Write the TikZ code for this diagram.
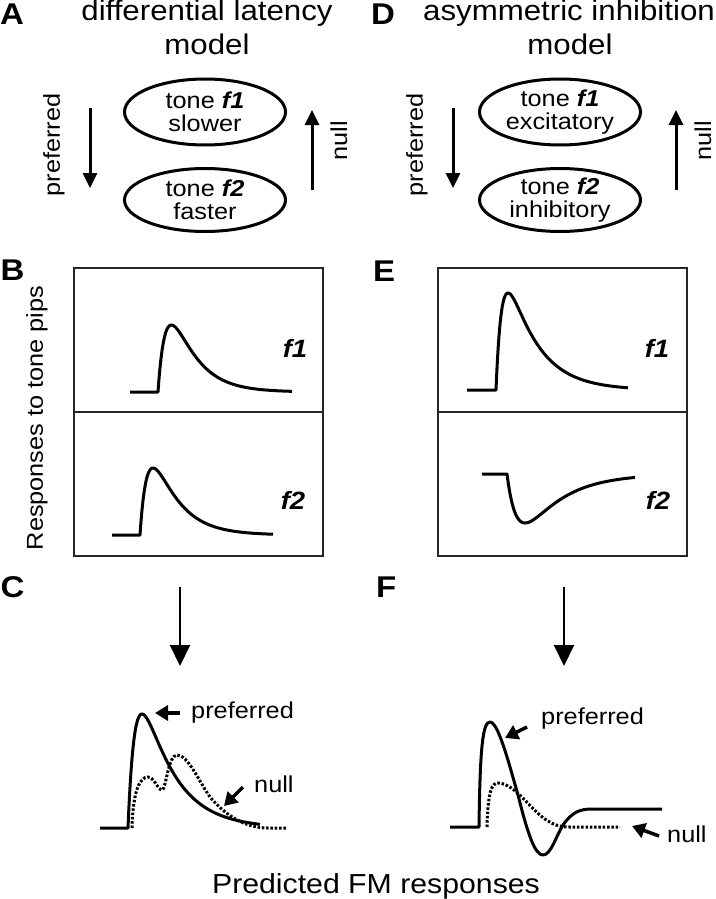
\documentclass[tikz,border=0pt]{standalone}
\usepackage{fontspec}
\setmainfont{Liberation Sans}[FakeStretch=1.1]
\usetikzlibrary{arrows.meta,shapes.geometric}
\begin{document}
\begin{tikzpicture}[x=1pt,y=-1pt,
  declare function={tpk(\a,\b)=\a*ln(1+\b/\a);
    rsp(\t,\a,\b)=(1-exp(-max(\t,0)/\a))*exp(-max(\t,0)/\b)/((1-exp(-tpk(\a,\b)/\a))*exp(-tpk(\a,\b)/\b));},
  lbl/.style={font=\fontsize{30}{32}\selectfont\bfseries, anchor=base west, inner sep=0},
  ttl/.style={font=\fontsize{28.4}{32}\selectfont, anchor=base, inner sep=0},
  txt/.style={font=\fontsize{23}{25}\selectfont, inner sep=0},
  oval/.style={ellipse, draw, line width=3pt, minimum width=161pt, minimum height=66pt,
    inner sep=0, align=center, font=\fontsize{23}{23}\selectfont},
  bigarr/.style={line width=3pt, -{Triangle[width=14pt,length=15pt]}},
  downarr/.style={line width=2pt, -{Triangle[width=20pt,length=21pt]}},
  smallarr/.style={line width=3.5pt, -{Triangle[width=15pt,length=13pt]}},
  trace/.style={line width=3pt, line join=round},
  dots/.style={line width=3pt, dash pattern=on 2.5pt off 1.8pt},
  panelbox/.style={draw=black!85, line width=1.6pt},
  flab/.style={font=\fontsize{25}{27}\selectfont\bfseries\itshape, anchor=base, inner sep=0}
]
\useasboundingbox (0,0) rectangle (715,899);

% ---------- panel labels ----------
\node[lbl] (labA) at (0,25) {A};
\node[lbl] (labB) at (0.5,280) {B};
\node[lbl] (labC) at (0.5,597) {C};
\node[lbl] (labD) at (371,25) {D};
\node[lbl] (labE) at (373,281) {E};
\node[lbl] (labF) at (376,597) {F};

% ---------- A ----------
\node[ttl] (tA1) at (207,21) {differential latency};
\node[ttl] (tA2) at (207,55) {model};
\node[oval] (A1) at (205,112) {tone \textbf{\textit{f1}}\\slower};
\node[oval, minimum height=63pt] (A2) at (205,200) {tone \textbf{\textit{f2}}\\faster};
\coordinate (Apt) at (90,108); \coordinate (Aph) at (90,188);
\coordinate (Ant) at (312,190); \coordinate (Anh) at (312,110);
\draw[bigarr] (Apt) -- (Aph);
\draw[bigarr] (Ant) -- (Anh);
\node[txt, rotate=90] (Apl) at (54,145) {preferred};
\node[txt, rotate=90] (Anl) at (339,141) {null};

% ---------- D ----------
\node[ttl] (tD1) at (569,21) {asymmetric inhibition};
\node[ttl] (tD2) at (570,55) {model};
\node[oval] (D1) at (560,112) {tone \textbf{\textit{f1}}\\excitatory};
\node[oval, minimum height=63pt] (D2) at (560,200) {tone \textbf{\textit{f2}}\\inhibitory};
\coordinate (Dpt) at (453,108); \coordinate (Dph) at (453,188);
\coordinate (Dnt) at (676,190); \coordinate (Dnh) at (676,110);
\draw[bigarr] (Dpt) -- (Dph);
\draw[bigarr] (Dnt) -- (Dnh);
\node[txt, rotate=90] (Dpl) at (417,145) {preferred};
\node[txt, rotate=90] (Dnl) at (703,141) {null};

% ---------- B ----------
\draw[panelbox] (74,268) rectangle (323,556);
\draw[panelbox] (74,412) -- (323,412);
\node[txt, rotate=90] (resp) at (37,418) {Responses to tone pips};
\draw[trace] plot[domain=-28:134, samples=325] ({158+\x},{392-67*rsp(\x,12.5,24)});
\draw[trace] plot[domain=-28:133, samples=323] ({140+\x},{535-67*rsp(\x,11,25)});
\node[flab] (Bf1) at (295,357) {f1};
\node[flab] (Bf2) at (293,509) {f2};

% ---------- E ----------
\draw[panelbox] (438,268) rectangle (687,556);
\draw[panelbox] (438,412) -- (687,412);
\draw[trace] plot[domain=-29:132, samples=323] ({496+\x},{390-97*rsp(\x,7.5,30)});
\draw[trace] plot[domain=-25:128, samples=307] ({507+\x},{474+49*rsp(\x,14,37)});
\node[flab] (Ef1) at (657,357) {f1};
\node[flab] (Ef2) at (658,509) {f2};

% ---------- C ----------
\coordinate (Cat) at (180,587); \coordinate (Cah) at (180,666);
\draw[downarr] (Cat) -- (Cah);
\draw[trace] plot[domain=-28:132, samples=321] ({128+\x},{828-114*rsp(\x,9.5,32)});
\draw[dots] (132,828) .. controls (133,790) and (140,777) .. (148,777)
  .. controls (154,777) and (158,790) .. (162,790)
  .. controls (166,790) and (168,755) .. (177,755)
  .. controls (188,755) and (198,780) .. (210,797)
  .. controls (225,815) and (245,828) .. (268,828) -- (287,828);
\coordinate (Cpt) at (180,713); \coordinate (Cph) at (155,713);
\coordinate (Cnt) at (243,787); \coordinate (Cnh) at (224,806);
\draw[smallarr] (Cpt) -- (Cph);
\draw[smallarr] (Cnt) -- (Cnh);
\node[txt, anchor=base west] (Cpl) at (191,718) {preferred};
\node[txt, anchor=base west] (Cnl) at (254,792) {null};

% ---------- F ----------
\coordinate (Fat) at (564,587); \coordinate (Fah) at (564,666);
\draw[downarr] (Fat) -- (Fah);
\draw[trace] (450,827) -- (479,827) .. controls (480,745) and (483,722) .. (490,722)
  .. controls (498,722) and (508,760) .. (518,795)
  .. controls (528,835) and (535,855) .. (543,855)
  .. controls (551,855) and (556,836) .. (563,825)
  .. controls (572,812) and (580,809) .. (592,809) -- (662,809);
\draw[dots] (487,827) .. controls (488,790) and (492,783) .. (498,783)
  .. controls (515,783) and (532,812) .. (548,821)
  .. controls (556,826) and (562,827) .. (570,827) -- (620,827);
\coordinate (Fpt) at (527,727); \coordinate (Fph) at (505,738);
\coordinate (Fnt) at (659,836); \coordinate (Fnh) at (632,826);
\draw[smallarr] (Fpt) -- (Fph);
\draw[smallarr] (Fnt) -- (Fnh);
\node[txt, anchor=base west] (Fpl) at (541,724) {preferred};
\node[txt, anchor=base west] (Fnl) at (667,842) {null};

% ---------- bottom caption ----------
\node[font=\fontsize{27.5}{30}\selectfont, anchor=base, inner sep=0] (cap) at (376,893) {Predicted FM responses};
\end{tikzpicture}
\end{document}
